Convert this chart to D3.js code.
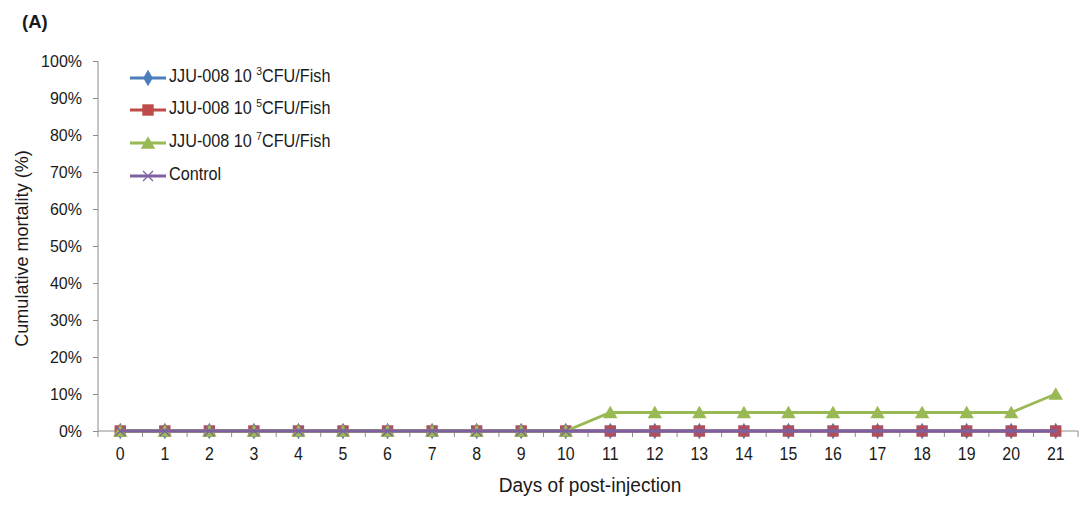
<!DOCTYPE html>
<html><head><meta charset="utf-8">
<script src="https://cdn.jsdelivr.net/npm/d3@7"></script>
<style>body{margin:0;background:#fff;}svg{display:block;font-family:"Liberation Sans",Arial,sans-serif;}</style>
</head><body>
<svg id="c" width="1081" height="506"></svg>
<script>
const days = d3.range(0, 22);
const yTicks = [0,10,20,30,40,50,60,70,80,90,100];
const s103 = [0,0,0,0,0,0,0,0,0,0,0,0,0,0,0,0,0,0,0,0,0,0];
const s105 = [0,0,0,0,0,0,0,0,0,0,0,0,0,0,0,0,0,0,0,0,0,0];
const s107 = [0,0,0,0,0,0,0,0,0,0,0,5,5,5,5,5,5,5,5,5,5,10];
const sCtrl = [0,0,0,0,0,0,0,0,0,0,0,0,0,0,0,0,0,0,0,0,0,0];
const seriesNames = ["JJU-008 10|3|CFU/Fish","JJU-008 10|5|CFU/Fish","JJU-008 10|7|CFU/Fish","Control"];
const colors = ["#4A7EBB","#BE4B48","#98B954","#7D60A0"];
const symbols = [d3.symbolDiamond, d3.symbolSquare, d3.symbolTriangle, null];
const series = [s103, s105, s107, sCtrl];

const svg = d3.select("#c");
const pL = 98, pR = 1078, pT = 61, pB = 431;
const x = d3.scaleBand().domain(days).range([pL, pR]);
const y = d3.scaleLinear().domain([0,100]).range([pB, pT]);
const txt = "#1a1a1a";

// y axis
const ya = svg.append("g").attr("transform",`translate(${pL},0)`)
  .call(d3.axisLeft(y).tickValues(yTicks).tickSize(5).tickPadding(11).tickFormat(d=>d+"%"));
ya.select(".domain").attr("stroke","#8c8c8c").attr("d",`M0,${pT}V${pB}`);
ya.selectAll(".tick line").attr("stroke","#8c8c8c");
ya.selectAll("text").attr("font-size",16).attr("fill",txt).attr("font-family","Liberation Sans, Arial, sans-serif");

// x axis
const xa = svg.append("g").attr("transform",`translate(0,${pB})`)
  .call(d3.axisBottom(x).tickSize(0).tickPadding(16));
xa.select(".domain").attr("stroke","#8c8c8c").attr("d",`M${pL},0H${pR}`);
xa.selectAll("text").attr("font-size",18.5).attr("fill",txt)
  .attr("transform","scale(0.86,1)").attr("font-family","Liberation Sans, Arial, sans-serif");
// boundary ticks
svg.append("g").selectAll("line").data(days.concat([22])).join("line")
  .attr("x1",d=> d<22 ? x(d) : pR).attr("x2",d=> d<22 ? x(d) : pR)
  .attr("y1",pB).attr("y2",pB+6).attr("stroke","#8c8c8c");

const cx = d => x(d) + x.bandwidth()/2;
const line = d3.line().x((v,i)=>cx(days[i])).y(v=>y(v));

function drawMarker(g, sym, color, px, py, size){
  if (sym) {
    const dy = sym === d3.symbolTriangle ? 1.5 : 0;
    g.append("path").attr("d", d3.symbol().type(sym).size(size)())
      .attr("transform",`translate(${px},${py+dy})`).attr("fill",color);
  } else {
    const r = 5;
    g.append("path").attr("d",`M${px-r},${py-r}L${px+r},${py+r}M${px-r},${py+r}L${px+r},${py-r}`)
      .attr("stroke",color).attr("stroke-width",1.3);
  }
}
const sizes = [80, 130, 90, 0];
series.forEach((s, k) => {
  const g = svg.append("g");
  g.append("path").datum(s).attr("d", line).attr("fill","none")
    .attr("stroke", colors[k]).attr("stroke-width", 2.8);
  s.forEach((v,i)=> drawMarker(g, symbols[k], colors[k], cx(days[i]), y(v), sizes[k]));
});

// legend
const lg = svg.append("g");
const rows = [78, 110, 143, 176];
seriesNames.forEach((n,k)=>{
  const yy = rows[k];
  lg.append("line").attr("x1",130).attr("x2",166).attr("y1",yy).attr("y2",yy)
    .attr("stroke",colors[k]).attr("stroke-width",2.8);
  drawMarker(lg, symbols[k], colors[k], 148, yy, sizes[k]);
  const t = lg.append("text").attr("transform",`translate(169,${yy+4}) scale(0.9,1)`)
    .attr("font-size",18).attr("fill",txt);
  const parts = n.split("|");
  if (parts.length===3){
    t.append("tspan").text(parts[0]+" ");
    t.append("tspan").text(parts[1]).attr("font-size",11.5).attr("dy",-7);
    t.append("tspan").text(parts[2]).attr("dy",7);
  } else t.text(n);
});

// titles
svg.append("text").attr("transform","translate(590,492) scale(0.91,1)").attr("text-anchor","middle")
  .attr("font-size",21).attr("fill",txt).text("Days of post-injection");
svg.append("text").attr("transform",`translate(28,248.5) rotate(-90) scale(0.95,1)`)
  .attr("text-anchor","middle").attr("font-size",19).attr("fill",txt).text("Cumulative mortality (%)");
svg.append("text").attr("x",22).attr("y",28).attr("font-size",18.5).attr("font-weight","bold")
  .attr("fill",txt).text("(A)");
</script>
</body></html>
